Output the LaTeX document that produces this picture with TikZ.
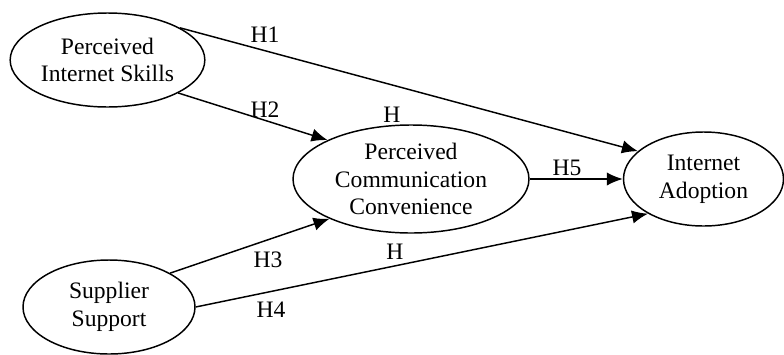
\documentclass[tikz,border=0pt]{standalone}
\usepackage{fontspec}
\setmainfont{Liberation Serif}
\usetikzlibrary{arrows.meta,shapes.geometric}
\tikzset{
  construct/.style={draw,ellipse,inner sep=0pt,align=center,font=\fontsize{17.7}{20.8}\selectfont},
  hyp/.style={inner sep=0pt,font=\fontsize{17.7}{20.8}\selectfont},
}
\begin{document}
\begin{tikzpicture}[x=0.75pt,y=-0.75pt,->,>={Latex[length=12pt,width=10pt]},line width=1.1pt]
\useasboundingbox (0,0) rectangle (784,354);
\node[construct,minimum width=146pt,minimum height=70.5pt](1) at (107.5,60){Perceived\\Internet Skills};
\node[construct,minimum width=177pt,minimum height=81pt](2) at (411,179){Perceived\\Communication\\Convenience};
\node[construct,minimum width=120pt,minimum height=70.5pt](3) at (703.5,179){Internet\\Adoption};
\node[construct,minimum width=129pt,minimum height=70.5pt](4) at (109,307){Supplier\\Support};

\path (1.24) edge (3.157);
\path (1.-25) edge (2.155);
\path (2.east) edge (3.west);
\path (4.29) edge (2.206);
\path (4.0) edge (3.212);

\node[hyp](h1) at (265,35){H1};
\node[hyp](h2) at (265,110){H2};
\node[hyp](ha) at (392,115){H};
\node[hyp](h5) at (567,168){H5};
\node[hyp](h3) at (268,260){H3};
\node[hyp](hb) at (395,252){H};
\node[hyp](h4) at (271,310){H4};
\end{tikzpicture}
\end{document}
